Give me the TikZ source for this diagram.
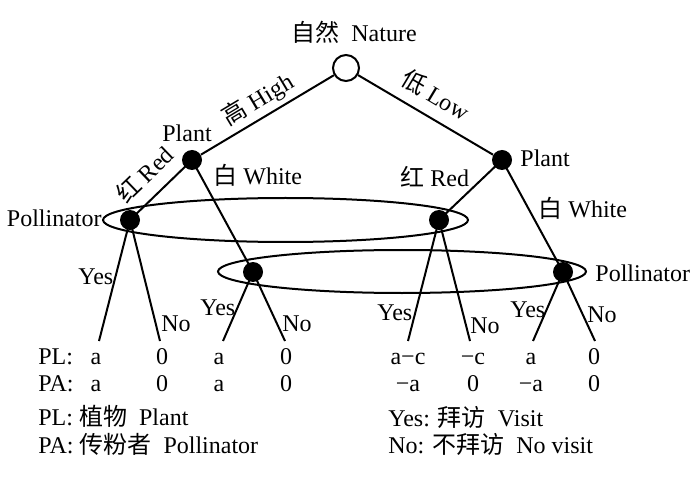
\documentclass[tikz,border=0pt]{standalone}
\usepackage{fontspec}
\setmainfont{Liberation Serif}
\newfontfamily\cjkfont{Noto Sans CJK SC}
\newcommand{\zh}[1]{{\cjkfont #1}}
\usetikzlibrary{shapes.geometric}
\begin{document}
\begin{tikzpicture}[x=0.5pt,y=-0.5pt,
  font=\fontsize{12}{14}\selectfont,
  chance/.style={circle,draw,line width=1pt,minimum size=13pt,inner sep=0pt},
  dec/.style={circle,fill,minimum size=10pt,inner sep=0pt},
  infoset/.style={ellipse,draw,line width=1pt,inner sep=0pt},
  edge/.style={line width=1pt},
  lbl/.style={inner sep=0pt,anchor=base},
  lblw/.style={inner sep=0pt,anchor=base west}]
\useasboundingbox (0,0) rectangle (694,480);
% information sets
\node[infoset,minimum width=182.5pt,minimum height=22pt] (is1) at (285.5,220) {};
\node[infoset,minimum width=184pt,minimum height=21.5pt] (is2) at (402,271.5) {};
% nodes
\node[chance] (root) at (346,68) {};
\node[dec] (p1) at (192,160) {};
\node[dec] (p2) at (502,160) {};
\node[dec] (a1) at (130,220) {};
\node[dec] (a2) at (253,272) {};
\node[dec] (a3) at (439,220) {};
\node[dec] (a4) at (563,272) {};
% leaves
\coordinate (l1y) at (99,341);
\coordinate (l1n) at (160,341);
\coordinate (l2y) at (223,341);
\coordinate (l2n) at (285,341);
\coordinate (l3y) at (408,341);
\coordinate (l3n) at (470,341);
\coordinate (l4y) at (533,341);
\coordinate (l4n) at (595,341);
% edges
\draw[edge] (root) -- (p1);
\draw[edge] (root) -- (p2);
\draw[edge] (p1.center) -- (a1.center);
\draw[edge] (p1.center) -- (a2.center);
\draw[edge] (p2.center) -- (a3.center);
\draw[edge] (p2.center) -- (a4.center);
\draw[edge] (a1.center) -- (l1y);
\draw[edge] (a1.center) -- (l1n);
\draw[edge] (a2.center) -- (l2y);
\draw[edge] (a2.center) -- (l2n);
\draw[edge] (a3.center) -- (l3y);
\draw[edge] (a3.center) -- (l3n);
\draw[edge] (a4.center) -- (l4y);
\draw[edge] (a4.center) -- (l4n);
% labels
\node[lbl] (tn) at (354,42) {\zh{自然}\ \ Nature};
\node[inner sep=0pt,rotate=31] (th) at (258,100) {\zh{高} High};
\node[inner sep=0pt,rotate=-31] (tl) at (436,95) {\zh{低} Low};
\node[lbl] (tp1) at (187,142) {Plant};
\node[lblw] (tp2) at (520,167) {Plant};
\node[inner sep=0pt,rotate=44] (tr1) at (144,174) {\zh{红} Red};
\node[lblw] (tw1) at (213,185) {\zh{白} White};
\node[lblw] (tr2) at (400,187) {\zh{红} Red};
\node[lblw] (tw2) at (538,218) {\zh{白} White};
\node[inner sep=0pt,anchor=base east] (tpo1) at (102,227) {Pollinator};
\node[lblw] (tpo2) at (595,281) {Pollinator};
\node[lblw] (y1) at (78,285) {Yes};
\node[lblw] (n1) at (161,331) {No};
\node[lblw] (y2) at (200,315) {Yes};
\node[lblw] (n2) at (282,331) {No};
\node[lblw] (y3) at (377,320) {Yes};
\node[lblw] (n3) at (470,333) {No};
\node[lblw] (y4) at (510,317) {Yes};
\node[lblw] (n4) at (587,322) {No};
% payoffs
\node[lblw] (pl) at (38,364) {PL:};
\node[lblw] (pa) at (38,391) {PA:};
\node[lbl] (r11) at (96,364) {a};
\node[lbl] (r12) at (162,364) {0};
\node[lbl] (r13) at (219,364) {a};
\node[lbl] (r14) at (286,364) {0};
\node[lbl] (r15) at (408,364) {a−c};
\node[lbl] (r16) at (473,364) {−c};
\node[lbl] (r17) at (531,364) {a};
\node[lbl] (r18) at (594,364) {0};
\node[lbl] (r21) at (96,391) {a};
\node[lbl] (r22) at (162,391) {0};
\node[lbl] (r23) at (219,391) {a};
\node[lbl] (r24) at (286,391) {0};
\node[lbl] (r25) at (408,391) {−a};
\node[lbl] (r26) at (473,391) {0};
\node[lbl] (r27) at (531,391) {−a};
\node[lbl] (r28) at (594,391) {0};
% legend
\node[lblw] (lg1) at (38,425) {PL: \zh{植物}\ \ Plant};
\node[lblw] (lg2) at (38,453) {PA: \zh{传粉者}\ \ Pollinator};
\node[lblw] (lg3) at (388,426) {Yes: \zh{拜访}\ \ Visit};
\node[lblw] (lg4) at (388,453) {No: \zh{不拜访}\ \ No visit};
\end{tikzpicture}
\end{document}
